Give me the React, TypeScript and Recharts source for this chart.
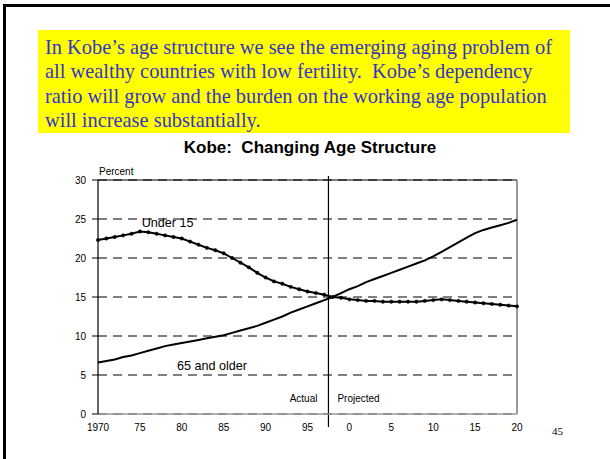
import React from "react"
import { CartesianGrid, Line, LineChart, ReferenceDot, ReferenceLine, XAxis, YAxis } from "recharts"

const years = [
  1970, 1971, 1972, 1973, 1974, 1975, 1976, 1977, 1978, 1979,
  1980, 1981, 1982, 1983, 1984, 1985, 1986, 1987, 1988, 1989,
  1990, 1991, 1992, 1993, 1994, 1995, 1996, 1997, 1998, 1999,
  2000, 2001, 2002, 2003, 2004, 2005, 2006, 2007, 2008, 2009,
  2010, 2011, 2012, 2013, 2014, 2015, 2016, 2017, 2018, 2019, 2020,
]

const under15 = [
  22.3, 22.5, 22.7, 22.9, 23.1, 23.4, 23.3, 23.1, 22.9, 22.7,
  22.5, 22.1, 21.7, 21.3, 21.0, 20.6, 20.0, 19.4, 18.8, 18.1,
  17.5, 17.0, 16.7, 16.3, 16.0, 15.7, 15.5, 15.3, 15.0, 14.9,
  14.7, 14.6, 14.5, 14.5, 14.4, 14.4, 14.4, 14.4, 14.4, 14.5,
  14.6, 14.7, 14.6, 14.5, 14.4, 14.3, 14.2, 14.1, 14.0, 13.9, 13.8,
]

const over65 = [
  6.6, 6.8, 7.0, 7.3, 7.5, 7.8, 8.1, 8.4, 8.7, 8.9,
  9.1, 9.3, 9.5, 9.7, 9.9, 10.1, 10.4, 10.7, 11.0, 11.3,
  11.7, 12.1, 12.5, 13.0, 13.4, 13.8, 14.2, 14.6, 15.0, 15.5,
  16.0, 16.4, 16.9, 17.3, 17.7, 18.1, 18.5, 18.9, 19.3, 19.7,
  20.2, 20.8, 21.4, 22.0, 22.6, 23.2, 23.6, 23.9, 24.2, 24.5, 24.9,
]

const xTicks = [1970, 1975, 1980, 1985, 1990, 1995, 2000, 2005, 2010, 2015, 2020]
const yTicks = [0, 5, 10, 15, 20, 25, 30]

const data = years.map((year, i) => ({ year, under15: under15[i], over65: over65[i] }))

const sans = "'Liberation Sans', Arial, sans-serif"
const serif = "'Liberation Serif', 'Times New Roman', serif"

// vertical divider between actual and projected years, drawn a bit past the plot
const divider = (p: any) => {
  const top = Math.min(p.y1, p.y2)
  const bottom = Math.max(p.y1, p.y2)
  return (
    <g>
      <line x1={p.x1} x2={p.x2} y1={top - 4} y2={bottom + 13} stroke="#000" strokeWidth={1.2} />
      <text x={p.x1 - 11} y={bottom - 12.5} textAnchor="end" fontSize={10} fontFamily={sans} fill="#000">
        Actual
      </text>
      <text x={p.x1 + 9} y={bottom - 12.5} textAnchor="start" fontSize={10} fontFamily={sans} fill="#000">
        Projected
      </text>
    </g>
  )
}

export default function App() {
  return (
    <div style={{ position: "fixed", left: 0, top: 0, width: 610, height: 459, overflow: "hidden", background: "#fff" }}>
      <div
        style={{
          position: "absolute",
          left: 3,
          top: 4,
          width: 640,
          height: 490,
          border: "3px solid #000",
        }}
      />
      <div
        style={{
          position: "absolute",
          left: 38,
          top: 30,
          width: 532,
          height: 103,
          boxSizing: "border-box",
          background: "#ffff00",
          padding: "5px 0 0 7px",
          fontFamily: serif,
          fontSize: 20.4,
          lineHeight: "24.4px",
          color: "#3535c8",
          whiteSpace: "nowrap",
        }}
      >
        In Kobe’s age structure we see the emerging aging problem of
        <br />
        all wealthy countries with low fertility.&nbsp; Kobe’s dependency
        <br />
        ratio will grow and the burden on the working age population
        <br />
        will increase substantially.
      </div>
      <div
        style={{
          position: "absolute",
          left: 110,
          width: 400,
          top: 138,
          textAlign: "center",
          fontFamily: sans,
          fontWeight: "bold",
          fontSize: 17,
          whiteSpace: "pre",
          color: "#000",
        }}
      >
        {"Kobe:  Changing Age Structure"}
      </div>
      <div style={{ position: "absolute", left: 99, top: 166, fontFamily: sans, fontSize: 10, color: "#000" }}>
        Percent
      </div>
      <div style={{ position: "absolute", left: 552, top: 425, fontFamily: serif, fontSize: 11, color: "#000" }}>
        45
      </div>
      <div style={{ position: "absolute", left: 0, top: 0 }}>
        <LineChart width={610} height={459} data={data} margin={{ top: 180, right: 93, bottom: 15, left: 48 }}>
          <CartesianGrid vertical={false} stroke="#555" strokeWidth={1.5} strokeDasharray="9 6" />
          <XAxis
            dataKey="year"
            type="number"
            domain={[1970, 2020]}
            ticks={xTicks}
            tickFormatter={(v) => (v === 1970 ? "1970" : `${v % 100}`)}
            tickLine={false}
            tickMargin={4}
            axisLine={{ stroke: "#999", strokeWidth: 1.5 }}
            tick={{ fontSize: 10, fill: "#000", fontFamily: sans }}
            height={30}
            interval={0}
          />
          <YAxis
            type="number"
            domain={[0, 30]}
            ticks={yTicks}
            width={50}
            tickSize={6}
            tickMargin={6}
            tickLine={{ stroke: "#000" }}
            axisLine={{ stroke: "#000", strokeWidth: 1.2 }}
            tick={{ fontSize: 10, fill: "#000", fontFamily: sans }}
            interval={0}
          />
          <ReferenceLine y={30} stroke="#000" strokeWidth={1.2} />
          <ReferenceLine x={2020} stroke="#777" strokeWidth={1.5} />
          <ReferenceLine x={1997.5} shape={divider} />
          <Line
            dataKey="over65"
            type="linear"
            stroke="#000"
            strokeWidth={2}
            dot={false}
            isAnimationActive={false}
          />
          <Line
            dataKey="under15"
            type="linear"
            stroke="#000"
            strokeWidth={2}
            dot={{ r: 1.7, fill: "#000", stroke: "#000", strokeWidth: 0.5 }}
            isAnimationActive={false}
          />
          <ReferenceDot
            x={1978.3}
            y={24.5}
            r={1}
            fill="none"
            stroke="none"
            label={{ value: "Under 15", position: "center", fontSize: 12.6, fill: "#000", fontFamily: sans }}
          />
          <ReferenceDot
            x={1983.6}
            y={6.2}
            r={1}
            fill="none"
            stroke="none"
            label={{ value: "65 and older", position: "center", fontSize: 12.6, fill: "#000", fontFamily: sans }}
          />
        </LineChart>
      </div>
    </div>
  )
}
